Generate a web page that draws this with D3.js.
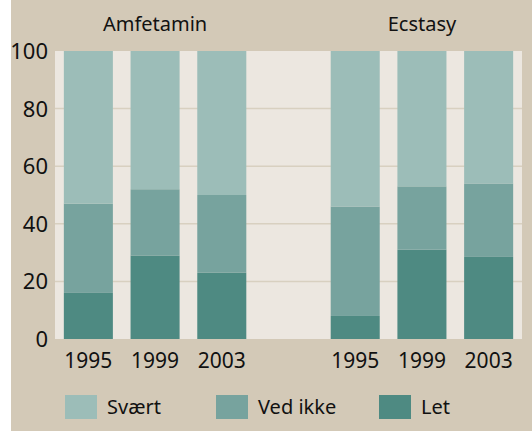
<!DOCTYPE html>
<html>
<head>
<meta charset="utf-8">
<script src="https://cdn.jsdelivr.net/npm/d3@7"></script>
<style>
  body { margin: 0; background: #fff; }
  text { font-family: "Noto Sans", sans-serif; fill: #111; }
</style>
</head>
<body>
<svg id="chart" width="532" height="431"></svg>
<script>
// chart data
let groups = ['Amfetamin', 'Ecstasy'];
let years = ['1995', '1999', '2003'];
let seriesNames = ['Svært', 'Ved ikke', 'Let'];
// values per bar, Amfetamin 1995..2003 then Ecstasy 1995..2003
let letValues = [16, 29, 23, 8, 31, 28.5];
let vedIkkeValues = [31, 23, 27, 38, 22, 25.5];
let svaertValues = [53, 48, 50, 54, 47, 46];
let yTicks = [0, 20, 40, 60, 80, 100];

let colors = { 'Svært': '#9cbdb8', 'Ved ikke': '#77a39e', 'Let': '#4e8a82' };

let svg = d3.select('#chart');

// slots: 3 bars, one empty gap, 3 bars
let slots = ['A1995', 'A1999', 'A2003', 'gap', 'E1995', 'E1999', 'E2003'];
let barSlots = ['A1995', 'A1999', 'A2003', 'E1995', 'E1999', 'E2003'];

let plot = { left: 55, right: 522, top: 51, bottom: 339 };

let x = d3.scaleBand()
  .domain(slots)
  .range([plot.left, plot.right])
  .paddingInner(0.265)
  .paddingOuter(0.1325);

let y = d3.scaleLinear()
  .domain([0, 100])
  .range([plot.bottom, plot.top]);

// backgrounds
svg.append('rect')
  .attr('x', 11).attr('y', 0)
  .attr('width', 521).attr('height', 431)
  .attr('fill', '#d3c9b7');

svg.append('rect')
  .attr('x', plot.left).attr('y', plot.top)
  .attr('width', plot.right - plot.left).attr('height', plot.bottom - plot.top)
  .attr('fill', '#ece7e0');

// gridlines
svg.append('g')
  .selectAll('line')
  .data(yTicks.filter(d => d > 0 && d < 100))
  .enter()
  .append('line')
  .attr('x1', plot.left).attr('x2', plot.right)
  .attr('y1', d => y(d)).attr('y2', d => y(d))
  .attr('stroke', '#d8d0c0')
  .attr('stroke-width', 1.5);

// stacked data
let rows = barSlots.map((s, i) => ({
  slot: s,
  'Let': letValues[i],
  'Ved ikke': vedIkkeValues[i],
  'Svært': svaertValues[i]
}));

let stack = d3.stack().keys(['Let', 'Ved ikke', 'Svært']);
let stacked = stack(rows);

svg.append('g')
  .selectAll('g')
  .data(stacked)
  .enter()
  .append('g')
  .attr('fill', d => colors[d.key])
  .selectAll('rect')
  .data(d => d)
  .enter()
  .append('rect')
  .attr('x', d => x(d.data.slot))
  .attr('width', x.bandwidth())
  .attr('y', d => y(d[1]))
  .attr('height', d => y(d[0]) - y(d[1]));

// y axis labels
svg.append('g')
  .selectAll('text')
  .data(yTicks)
  .enter()
  .append('text')
  .attr('x', 48)
  .attr('y', d => y(d) + 8)
  .attr('text-anchor', 'end')
  .style('font-size', '22px')
  .text(d => d);

// year labels
svg.append('g')
  .selectAll('text')
  .data(barSlots)
  .enter()
  .append('text')
  .attr('x', d => x(d) + x.bandwidth() / 2)
  .attr('y', 368)
  .attr('text-anchor', 'middle')
  .style('font-size', '21px')
  .text(d => d.slice(1));

// group titles
let groupSlots = [['A1995', 'A2003'], ['E1995', 'E2003']];
svg.append('g')
  .selectAll('text')
  .data(groups)
  .enter()
  .append('text')
  .attr('x', (d, i) => (x(groupSlots[i][0]) + x(groupSlots[i][1]) + x.bandwidth()) / 2)
  .attr('y', 31)
  .attr('text-anchor', 'middle')
  .style('font-size', '20px')
  .text(d => d);

// legend
let legendX = [65, 216, 379];
let legend = svg.append('g')
  .selectAll('g')
  .data(seriesNames)
  .enter()
  .append('g')
  .attr('transform', (d, i) => `translate(${legendX[i]},395)`);

legend.append('rect')
  .attr('width', 32).attr('height', 24)
  .attr('fill', d => colors[d]);

legend.append('text')
  .attr('x', 42)
  .attr('y', 19)
  .style('font-size', '20px')
  .text(d => d);
</script>
</body>
</html>
